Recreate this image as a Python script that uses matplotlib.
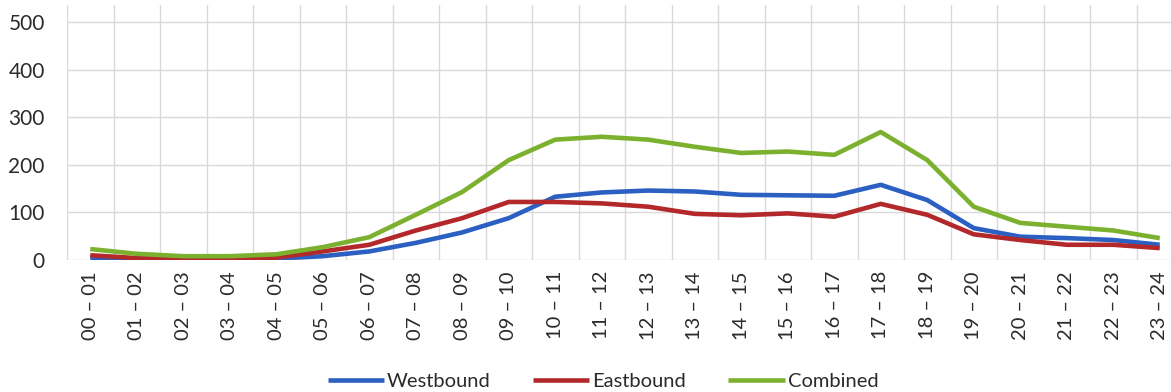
import matplotlib
matplotlib.use("Agg")
import matplotlib.pyplot as plt
import numpy as np

hours = ["00 – 01", "01 – 02", "02 – 03", "03 – 04", "04 – 05", "05 – 06",
         "06 – 07", "07 – 08", "08 – 09", "09 – 10", "10 – 11", "11 – 12",
         "12 – 13", "13 – 14", "14 – 15", "15 – 16", "16 – 17", "17 – 18",
         "18 – 19", "19 – 20", "20 – 21", "21 – 22", "22 – 23", "23 – 24"]

westbound = [5, 2, 1, 2, 3, 8, 18, 36, 58, 88, 133, 142,
             146, 144, 137, 136, 135, 158, 126, 67, 49, 46, 42, 32]
eastbound = [10, 4, 3, 3, 5, 18, 32, 62, 88, 122, 122, 119,
             112, 97, 94, 98, 91, 118, 95, 54, 42, 32, 32, 25]
combined = [23, 13, 8, 8, 12, 27, 48, 95, 143, 210, 253, 259,
            253, 238, 225, 228, 221, 269, 210, 112, 78, 70, 62, 46]

y_ticks = [0, 100, 200, 300, 400, 500]

plt.rcParams['font.family'] = ['Lato', 'DejaVu Sans']
text_color = "#2b2b2b"

fig = plt.figure(figsize=(11.71, 3.92), dpi=100)
ax = fig.add_axes([67 / 1171, 1 - 260 / 392, 1116 / 1171, 255 / 392])

x = np.arange(len(hours))
ax.plot(x, westbound, color="#2b5fc1", lw=3.3, label="Westbound", solid_capstyle="butt")
ax.plot(x, eastbound, color="#b3282a", lw=3.3, label="Eastbound", solid_capstyle="butt")
ax.plot(x, combined, color="#7bb12f", lw=3.3, label="Combined", solid_capstyle="butt")

ax.set_xlim(-0.5, len(hours) - 0.5)
ax.set_ylim(0, 536)
ax.set_yticks(y_ticks)
ax.set_xticks(x)
ax.set_xticklabels(hours, rotation=90, fontsize=14.5, color=text_color)
ax.set_xticks(np.arange(-0.5, len(hours), 1.0), minor=True)
ax.tick_params(axis="y", labelsize=15, colors=text_color, length=0, pad=16)
ax.tick_params(axis="x", which="both", length=0, pad=8)

ax.grid(axis="y", which="major", color="#d9d9d9", lw=1.0)
ax.grid(axis="x", which="minor", color="#d9d9d9", lw=1.0)
ax.grid(axis="x", which="major", visible=False)
ax.set_axisbelow(True)
for s in ax.spines.values():
    s.set_visible(False)

fig.legend(loc="lower center", bbox_to_anchor=(0.515, -0.04), ncol=3,
           frameon=False, fontsize=14.5, handlelength=2.8, handletextpad=0.15,
           columnspacing=2.1, labelcolor=text_color)

fig.savefig("out.png", dpi=100)
